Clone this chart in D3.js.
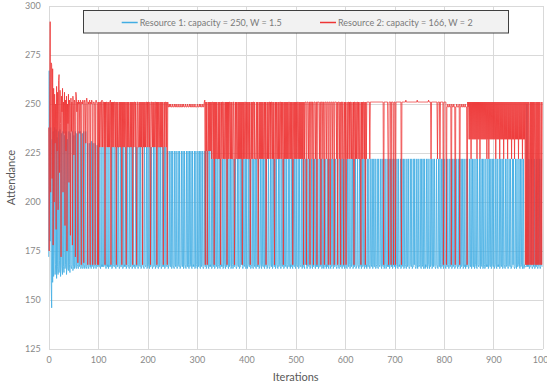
<!DOCTYPE html>
<html>
<head>
<meta charset="utf-8">
<script src="https://cdn.jsdelivr.net/npm/d3@7"></script>
<style>
  body { margin: 0; background: #ffffff; }
  svg text { font-family: Lato, "Open Sans", "Liberation Sans", sans-serif; }
</style>
</head>
<body>
<svg id="chart" width="547" height="387"></svg>
<script>
// Axis ticks
const xTicks = [0, 100, 200, 300, 400, 500, 600, 700, 800, 900, 1000];
const yTicks = [125, 150, 175, 200, 225, 250, 275, 300];

// Series names
const seriesNames = [
  "Resource 1: capacity = 250, W = 1.5",
  "Resource 2: capacity = 166, W = 2"
];

// Resource 1 attendance, iterations 0-99
const res1Start = [
  172,267,205,180,238,160,146,232,159,236,
  162,175,238,163,168,237,161,233,167,163,
  236,164,170,237,162,166,235,168,163,236,
  167,164,234,166,168,236,163,167,232,166,
  165,236,168,164,235,167,166,168,236,165,
  167,234,166,168,236,167,166,235,168,167,
  166,236,167,168,236,166,167,168,235,166,
  167,236,168,166,167,236,167,166,168,230,
  167,166,168,230,167,168,166,231,167,168,
  230,166,167,168,230,167,166,168,229,167
];

// Resource 2 attendance, iterations 0-99
const res2Start = [
  238,175,252,292,205,271,270,212,268,178,
  258,200,255,230,250,186,259,226,256,196,
  262,265,215,257,240,172,254,246,258,205,
  251,235,256,188,252,226,254,175,250,240,
  255,210,252,248,183,253,236,251,178,254,
  249,224,252,251,172,256,254,246,251,169,
  252,250,251,235,252,251,168,251,250,252,
  251,169,251,252,250,230,251,253,251,168,
  251,250,251,252,168,251,250,252,251,168,
  250,251,251,249,168,251,252,251,250,168
];

// Attendance levels used by the per-iteration codes below
const res1Levels = { a: 166, b: 167, c: 168, V: 230, Z: 228, Y: 226, X: 224, W: 222, S: 250 };
const res2Levels = { T: 251, t: 250, u: 248.5, v: 252, M: 228, K: 226, J: 222, m: 232, n: 222, L: 168 };

// Resource 1 attendance, iterations 100-999 (one character per iteration, 100 per row)
const res1Rest = [
  "bcVbbaZbcb ZbbcZbabZb caZbbcbZab ZcbbZbacZb bZcabZbbcZ abZbcbZabb ZcbaZbbZca bZbcbaZbcZ babZcbZabc ZbbaZcbbZa",
  "bZcbaZbbZc abZbcZabbZ cbaZbbZcab ZbcbZabZcb bYabcYbbYa cYbbaYcbYb abYcbYabbY cbYabYcbaY bbYcaYbcYb aYbcbYabYc",
  "baYbcYbaYb cYbabYcbYa bcYbaYbcbY abWcbWabWc bWabcWbaWb cbWabWcbaW bcWbaWbcWa bWcabWbcWb abWcbWabbW cWbabWcbWa",
  "bWabcWbbWa bcWbaWcbWb aWbcbWabcW baWcbWbaWc bWabcWbabW cbWabWcbWa bWcbaWbcWb abWcbWabWc bWbacWbbWa cbWbaWcbWb",
  "aWcbbWabWc bbWacWbbaW cWbabWcbWa bcWbaWbcWb aWbcbWabbW cbWabWcaWb bWacbWbaWc baWbcWabWb cWbabWcbaW bbWcaWbcWa",
  "bWcbaWbbWc abWbcWabWb cWabbWcbaW bcWabWbcWa bWbcaWbbWc abWcbWacWb bWabcWbaWc bcWbaWcbWa bWcabWbcbW abWcbWabWc",
  "bWabcWbaWb cbWabWcbWa bWcbaWbcWb abWcbWabbW cWbabWcaWb bcWbaWbcWa bWacbWbaWc baWbcWabWb cWbabWcbaW bbWcaWbcWa",
  "bWcbaWbbWc abWbcWabWb cWabbWcbaW bcWabWbcWa bWbcaWbbWc abWcbWacWb bWabcWbaWc bcWbaWcbWa bWcabWbcbW abWcbWabWc",
  "bWabcWbaWb cbWabWcbWa bWcbaWbcWb abWcbWabbW cWbabWcaWb bcWbaWbcWa bWacbbbbSb cbWabbcWba bcbWabcbWb abcWbabWcb"
];

// Resource 2 attendance, iterations 100-999
const res2Rest = [
  "TLTMTTMTvM TTMTLTMTTM TMTMTvLTMT MTMTTMTLTM TMMTMTMTLT MTMTMTMLTM TMTMMTMTMT LTMTTMTMLT TMMTMTMTMT LTMTMTMTTM",
  "TMTTMTLMTT MTMTMTTMTL TMTMMTMTMT MTLMTMTTMT LTuutuutuu utuuutuutu uutuuutuuu tuutuuutuu utuuutuutu uutuuutuuu",
  "utuuutuutu uutuuTvLTK TLKTKTKTKT JTTJTLTJTJ TJJTJTJTLJ TJTTJTJJTJ TLTJTJTTJT JTJJTTLJTJ TJJTJTJTJT JTLTJTJTTJ",
  "TJTJJTJTLJ TJTJTTJTJJ JTJTLJTJTJ TJTJTJJTJT LJTJTJTTJT JTTJTJTLJT JTJJTJTJTT JTJTJLTJTJ TJTJTJTTJT JTJTLJTJTJ",
  "TJTJTTJTJT JTJTJTLTJT TTLTTTJTTL TTTJTTLTTT JTTLTTTTJT TLTTTJTTLT TTJTTTLTTT LTTTJTTTLT TTTJTLTTTJ TLTTJTTLJT",
  "JTLJTJTTJT JTTJTJJTLT TJTJTTJTJJ TJLTJTJTTJ TLTJTTTTTT JTTTTTTTTT TTTTTTTTTT TTTTTTTTLT TTTTTTTJLT TTTLTTTTLT",
  "TTLTTTTTTT TTTTLTTTTT TTTvTTTTTT TTTTTTTTTT TTTTTTvTTT TTTTTTTTTT TTTTTTTTTv TTTTJTTTTT TTTTTTTJTT TTJTTTTTTL",
  "TTTTTLuutu uutuuLtuuu tuuLuutuuu utLuutuuut uuutuuuLTu TmTmTnTmTm TmTmTmTnTm TmTnTmTmTm TmTmTmTnTm TnTmTmTmTm",
  "TmTmTnTmTm TmTnTmTmTm TnTmTmTmTn TmTmTmTnTm TmTnTmTmTm TnTmTmTmTn TmTmTLTLTL TLTJLTLTLT LTLTJLTLTL TLTLTJLTLT"
];

function decode(rows, levels) {
  return rows.join("").replace(/\s+/g, "").split("").map(ch => levels[ch]);
}

const res1 = res1Start.concat(decode(res1Rest, res1Levels));
const res2 = res2Start.concat(decode(res2Rest, res2Levels));

const seriesColors = ["#41ade3", "#ee3535"];

const svg = d3.select("#chart");
const W = 547, H = 387;
const plot = { left: 48.7, right: 542.7, top: 6, bottom: 349 };

const x = d3.scaleLinear().domain([0, 1000]).range([plot.left, plot.right]);
const y = d3.scaleLinear().domain([125, 300]).range([plot.bottom, plot.top]);

svg.append("rect").attr("width", W).attr("height", H).attr("fill", "#ffffff");

// Gridlines
const grid = svg.append("g").attr("stroke", "#d9d9d9").attr("stroke-width", 1).attr("shape-rendering", "crispEdges");
grid.selectAll("line.h").data(yTicks).join("line")
  .attr("x1", plot.left).attr("x2", plot.right)
  .attr("y1", d => Math.round(y(d)) + 0.5).attr("y2", d => Math.round(y(d)) + 0.5);
grid.selectAll("line.v").data(xTicks).join("line")
  .attr("y1", plot.top).attr("y2", plot.bottom)
  .attr("x1", d => Math.round(x(d)) + 0.5).attr("x2", d => Math.round(x(d)) + 0.5);

// Axes (labels only, lines come from the grid)
const xAxis = svg.append("g").attr("transform", `translate(0,${plot.bottom})`)
  .call(d3.axisBottom(x).tickValues(xTicks).tickSize(0).tickPadding(8).tickFormat(d3.format("d")));
const yAxis = svg.append("g").attr("transform", `translate(${plot.left},0)`)
  .call(d3.axisLeft(y).tickValues(yTicks).tickSize(0).tickPadding(8).tickFormat(d3.format("d")));
[xAxis, yAxis].forEach(a => {
  a.select(".domain").remove();
  a.selectAll("text").attr("fill", "#898989").attr("font-size", "9px")
    .style("font-family", "Lato, 'Open Sans', sans-serif");
});

// Series lines
const line = d3.line().x((d, i) => x(i)).y(d => y(d));
[res1, res2].forEach((s, k) => {
  svg.append("path").datum(s)
    .attr("fill", "none")
    .attr("stroke", seriesColors[k])
    .attr("stroke-width", 0.8)
    .attr("stroke-linejoin", "miter")
    .attr("d", line);
});

// Axis titles
svg.append("text").attr("x", (plot.left + plot.right) / 2).attr("y", 381)
  .attr("text-anchor", "middle").attr("font-size", "11px").attr("fill", "#595959")
  .text("Iterations");
svg.append("text").attr("transform", `translate(15,${(plot.top + plot.bottom) / 2}) rotate(-90)`)
  .attr("text-anchor", "middle").attr("font-size", "11px").attr("fill", "#595959")
  .text("Attendance");

// Legend
const legend = svg.append("g");
legend.append("rect").attr("x", 83.5).attr("y", 10.5).attr("width", 425).attr("height", 22.5)
  .attr("fill", "#f2f2f2").attr("stroke", "#404040").attr("stroke-width", 1);
const legendX = [121.7, 320];
seriesNames.forEach((name, k) => {
  legend.append("line").attr("x1", legendX[k]).attr("x2", legendX[k] + 16)
    .attr("y1", 22.5).attr("y2", 22.5).attr("stroke", seriesColors[k]).attr("stroke-width", 1.5);
  legend.append("text").attr("x", legendX[k] + 18).attr("y", 25.7)
    .attr("font-size", "9px").attr("fill", "#7a7a7a").text(name);
});
</script>
</body>
</html>
